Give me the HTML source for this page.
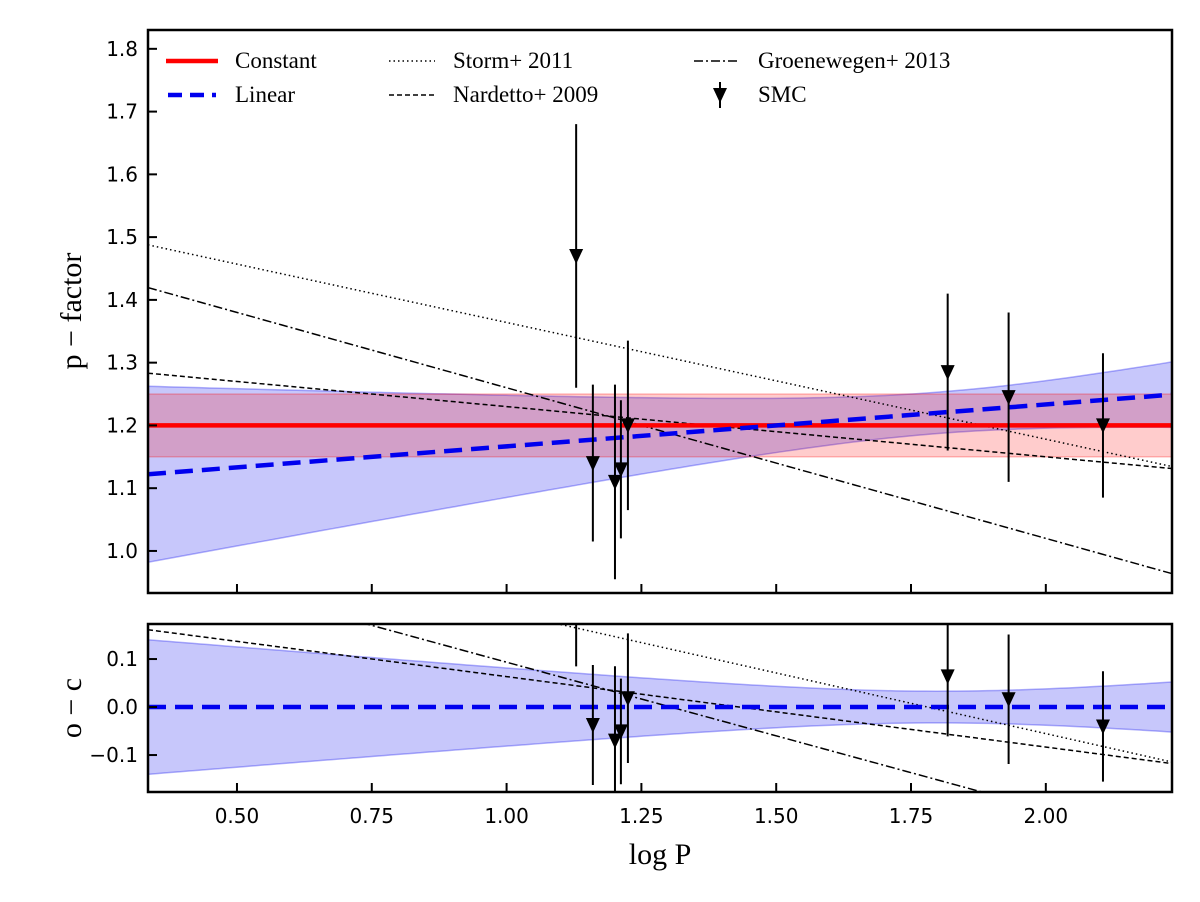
<!DOCTYPE html>
<html><head><meta charset="utf-8">
<style>
html,body{margin:0;padding:0;background:#fff;}
svg{display:block;}
.tick{font-family:"DejaVu Sans","Liberation Sans",sans-serif;font-size:20px;fill:#000;}
.leg{font-family:"Liberation Serif",serif;font-size:23px;fill:#000;}
.lab{font-family:"Liberation Serif",serif;font-size:30px;fill:#000;}
</style></head>
<body>
<svg id="chart" width="1200" height="902" viewBox="0 0 1200 902" xmlns="http://www.w3.org/2000/svg">
<defs>
<clipPath id="clipTop"><rect x="148" y="30" width="1024" height="563"/></clipPath>
<clipPath id="clipBot"><rect x="148" y="624" width="1024" height="168"/></clipPath>
</defs>
<g id="top"></g>
<g id="bot"></g>
<g id="legend"></g>
</svg>
<script>
const logP = [1.129, 1.160, 1.201, 1.212, 1.225, 1.818, 1.931, 2.106];
const pFactor = [1.47, 1.14, 1.11, 1.13, 1.20, 1.285, 1.245, 1.20];
const pErr = [0.21, 0.125, 0.155, 0.11, 0.135, 0.125, 0.135, 0.115];
const constVal = [1.20];
const constErr = [0.05];
const linearCoef = [1.20, 0.0668, 1.5]; // p = a + b*(logP - x0)
const linearBand = [0.033, 0.093, 1.8]; // halfwidth = sqrt(a^2 + (b*(x-x0))^2)
const stormCoef = [1.550, -0.186];
const nardettoCoef = [1.31, -0.08];
const groenCoef = [1.50, -0.24];
const xTicks = [0.5, 0.75, 1.0, 1.25, 1.5, 1.75, 2.0];
const xTickLabels = ["0.50","0.75","1.00","1.25","1.50","1.75","2.00"];
const yTicksTop = [1.0,1.1,1.2,1.3,1.4,1.5,1.6,1.7,1.8];
const yTickLabelsTop = ["1.0","1.1","1.2","1.3","1.4","1.5","1.6","1.7","1.8"];
const yTicksBot = [-0.1, 0.0, 0.1];
const yTickLabelsBot = ["\u22120.1","0.0","0.1"];

const NS = "http://www.w3.org/2000/svg";
const XMIN = 0.335, XMAX = 2.234, L = 148, R = 1172;
const X = v => L + (v - XMIN) / (XMAX - XMIN) * (R - L);
const TT = 30, TB = 593, TYMIN = 0.933, TYMAX = 1.830;
const YT = v => TB - (v - TYMIN) / (TYMAX - TYMIN) * (TB - TT);
const BT = 624, BB = 792, BYMIN = -0.177, BYMAX = 0.173;
const YB = v => BB - (v - BYMIN) / (BYMAX - BYMIN) * (BB - BT);

function mk(tag, attrs, parent){ const e=document.createElementNS(NS,tag); for(const k in attrs) e.setAttribute(k,attrs[k]); parent.appendChild(e); return e; }
const lin = x => linearCoef[0] + linearCoef[1]*(x - linearCoef[2]);
const hw = x => Math.sqrt(linearBand[0]**2 + (linearBand[1]*(x-linearBand[2]))**2);
const xs = []; for(let i=0;i<=100;i++) xs.push(XMIN + (XMAX-XMIN)*i/100);

function panel(g, Y, clip, isTop){
  const c = mk('g',{'clip-path':'url(#'+clip+')'},g);
  
  
  const off = x => isTop ? 0 : lin(x);
  let up = xs.map(x=>X(x)+','+Y(lin(x)+hw(x)-off(x)));
  let dn = xs.slice().reverse().map(x=>X(x)+','+Y(lin(x)-hw(x)-off(x)));
  const lb = mk('polygon',{points:up.concat(dn).join(' '),fill:'#0000ee','fill-opacity':0.22,stroke:'#0000ee','stroke-opacity':0.3,'stroke-width':1.5},c);
  
  
  if(isTop){
    const cb = mk('rect',{x:L,y:Y(constVal[0]+constErr[0]),width:R-L,height:Y(constVal[0]-constErr[0])-Y(constVal[0]+constErr[0]),fill:'#ff0000','fill-opacity':0.2,stroke:'#ff0000','stroke-opacity':0.25,'stroke-width':1.5},c);
    
    
  }
  const rel = [[stormCoef,'1.5 3','storm-2011-line'],[nardettoCoef,'5 3','nardetto-2009-line'],[groenCoef,'9 3 2 3','groenewegen-2013-line']];
  rel.forEach(([cf,da,nm])=>{
    const pts = xs.map(x=>X(x)+','+Y(cf[0]+cf[1]*x-off(x))).join(' ');
    const pl = mk('polyline',{points:pts,fill:'none',stroke:'#000','stroke-width':1.5,'stroke-dasharray':da},c);
    
    
  });
  if(isTop){
    const cl = mk('line',{x1:L,x2:R,y1:Y(constVal[0]),y2:Y(constVal[0]),stroke:'#ff0000','stroke-width':4.5},c);
    
    
  }
  const ll = mk('line',{x1:L,x2:R,y1:Y(lin(XMIN)-off(XMIN)),y2:Y(lin(XMAX)-off(XMAX)),stroke:'#0000ee','stroke-width':4.5,'stroke-dasharray':'18 9'},c);
  
  
  logP.forEach((x,i)=>{
    const v = pFactor[i]-off(x);
    const e = mk('line',{x1:X(x),x2:X(x),y1:Y(v+pErr[i]),y2:Y(v-pErr[i]),stroke:'#000','stroke-width':2},c);
    
    
    const px=X(x), py=Y(v);
    const m = mk('polygon',{points:(px-7)+','+(py-7)+' '+(px+7)+','+(py-7)+' '+px+','+(py+8),fill:'#000'},c);
    
    
  });
  const T = isTop?TT:BT, B = isTop?TB:BB;
  const fr = mk('rect',{x:L,y:T,width:R-L,height:B-T,fill:'none',stroke:'#000','stroke-width':2.5},g);
  
  
  xTicks.forEach(t=>{
    const tk = mk('line',{x1:X(t),x2:X(t),y1:B,y2:B-9,stroke:'#000','stroke-width':2},g);
    
    
  });
  const yt = isTop?yTicksTop:yTicksBot, yl = isTop?yTickLabelsTop:yTickLabelsBot;
  yt.forEach((t,i)=>{
    const tk = mk('line',{x1:L,x2:L+9,y1:Y(t),y2:Y(t),stroke:'#000','stroke-width':2},g);
    
    
    const tx = mk('text',{x:L-10,y:Y(t)+7,'text-anchor':'end','class':'tick'},g);
    tx.textContent = yl[i];
    
    
  });
}
panel(document.getElementById('top'), YT, 'clipTop', true);
panel(document.getElementById('bot'), YB, 'clipBot', false);
const svg = document.getElementById('chart');
xTicks.forEach((t,i)=>{
  const tx = mk('text',{x:X(t),y:823,'text-anchor':'middle','class':'tick'},svg);
  tx.textContent = xTickLabels[i];
  
  
});
const xl = mk('text',{x:660,y:864,'text-anchor':'middle','class':'lab'},svg);
xl.textContent='log P';


const yl1 = mk('text',{x:0,y:0,'text-anchor':'middle','class':'lab',transform:'translate(81,311) rotate(-90)'},svg);
yl1.textContent='p \u2212 factor';


const yl2 = mk('text',{x:0,y:0,'text-anchor':'middle','class':'lab',transform:'translate(81,708) rotate(-90)'},svg);
yl2.textContent='o \u2212 c';



const lg = document.getElementById('legend');
const items = [
 [166,61,'Constant','solid-red','legend-constant'],
 [166,95,'Linear','dash-blue','legend-linear'],
 [387,61,'Storm+ 2011','dot','legend-storm'],
 [387,95,'Nardetto+ 2009','dash','legend-nardetto'],
 [692,61,'Groenewegen+ 2013','dashdot','legend-groenewegen'],
 [692,95,'SMC','tri','legend-smc']];
items.forEach(([x,y,label,st,nm])=>{
  const g = mk('g',{},lg);
  
  
  if(st==='solid-red') mk('line',{x1:x,x2:x+52,y1:y,y2:y,stroke:'#ff0000','stroke-width':4.5},g);
  else if(st==='dash-blue') mk('line',{x1:x+2,x2:x+50,y1:y,y2:y,stroke:'#0000ee','stroke-width':4.5,'stroke-dasharray':'14 8'},g);
  else if(st==='dot') mk('line',{x1:x+2,x2:x+48,y1:y,y2:y,stroke:'#000','stroke-width':1.4,'stroke-dasharray':'1.5 3'},g);
  else if(st==='dash') mk('line',{x1:x+2,x2:x+48,y1:y,y2:y,stroke:'#000','stroke-width':1.4,'stroke-dasharray':'5 3'},g);
  else if(st==='dashdot') mk('line',{x1:x+2,x2:x+48,y1:y,y2:y,stroke:'#000','stroke-width':1.4,'stroke-dasharray':'9 3 2 3'},g);
  else { const cx=x+28; mk('line',{x1:cx,x2:cx,y1:y-13,y2:y+13,stroke:'#000','stroke-width':2},g);
    mk('polygon',{points:(cx-7)+','+(y-7)+' '+(cx+7)+','+(y-7)+' '+cx+','+(y+8),fill:'#000'},g); }
  const t = mk('text',{x:(st==='solid-red'||st==='dash-blue')?x+69:x+66,y:y+7,'class':'leg'},g);
  t.textContent = label;
});
</script>
</body></html>
